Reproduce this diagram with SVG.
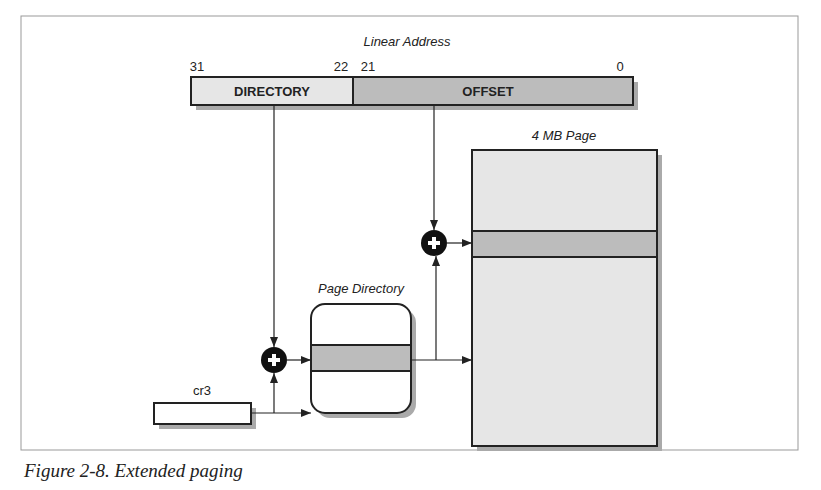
<svg xmlns="http://www.w3.org/2000/svg" width="821" height="490" viewBox="0 0 821 490">
<defs>
<marker id="ar" markerWidth="10" markerHeight="8" refX="10" refY="4" orient="auto" markerUnits="userSpaceOnUse"><path d="M0,0 L10,4 L0,8 Z" fill="#222"/></marker>
<style>
text{font-family:"Liberation Sans Narrow","Liberation Sans",Arial,sans-serif;fill:#222}
.it{font-style:italic;font-size:13px}
.n{font-size:13px}
.b{font-weight:bold;font-size:13px}
.box{stroke:#222;stroke-width:2}
.sh{fill:#aaa}
.ln{stroke:#222;stroke-width:1.2;fill:none}
</style>
</defs>
<rect width="821" height="490" fill="#fff"/>
<rect x="21" y="16" width="777" height="434" fill="none" stroke="#999" stroke-width="1"/>
<g id="linear-address">
<text class="it" x="407" y="46" text-anchor="middle">Linear Address</text>
<text class="n" x="197" y="71" text-anchor="middle">31</text>
<text class="n" x="341" y="71" text-anchor="middle">22</text>
<text class="n" x="368" y="71" text-anchor="middle">21</text>
<text class="n" x="620" y="71" text-anchor="middle">0</text>
<rect class="sh" x="196" y="82" width="442" height="28"/>
<rect class="box" x="191" y="77" width="162" height="28" fill="#e6e6e6"/>
<rect class="box" x="353" y="77" width="280" height="28" fill="#bcbcbc"/>
<text class="b" x="272" y="96" text-anchor="middle">DIRECTORY</text>
<text class="b" x="488" y="96" text-anchor="middle">OFFSET</text>
</g>
<g id="page-4mb">
<text class="it" x="564" y="140" text-anchor="middle">4 MB Page</text>
<rect class="sh" x="477" y="155" width="185" height="296"/>
<rect class="box" x="472" y="150" width="185" height="296" fill="#e6e6e6"/>
<rect class="box" x="472" y="231" width="185" height="26" fill="#bcbcbc"/>
</g>
<g id="page-directory">
<text class="it" x="361" y="293" text-anchor="middle">Page Directory</text>
<rect class="sh" x="316" y="309" width="100" height="109" rx="14"/>
<rect class="box" x="311" y="304" width="100" height="109" rx="14" fill="#fff"/>
<rect class="box" x="311" y="345" width="100" height="26" fill="#bcbcbc"/>
</g>
<g id="cr3">
<text class="n" x="202" y="395" text-anchor="middle">cr3</text>
<rect class="sh" x="159" y="408" width="97" height="21"/>
<rect class="box" x="154" y="403" width="97" height="21" fill="#fff"/>
</g>
<g id="plus1">
<circle cx="274" cy="360" r="13" fill="#111"/>
<path d="M268,360 H280 M274,354 V366" stroke="#fff" stroke-width="4"/>
</g>
<g id="plus2">
<circle cx="434" cy="243" r="13" fill="#111"/>
<path d="M428,243 H440 M434,237 V249" stroke="#fff" stroke-width="4"/>
</g>
<g id="connectors">
<path class="ln" d="M274,105 V347" marker-end="url(#ar)"/>
<path class="ln" d="M434,105 V230" marker-end="url(#ar)"/>
<path class="ln" d="M251,413 H311" marker-end="url(#ar)"/>
<path class="ln" d="M274,413 V373" marker-end="url(#ar)"/>
<path class="ln" d="M287,360 H311" marker-end="url(#ar)"/>
<path class="ln" d="M411,360 H472" marker-end="url(#ar)"/>
<path class="ln" d="M436,360 V256" marker-end="url(#ar)"/>
<path class="ln" d="M447,243 H472" marker-end="url(#ar)"/>
</g>
<text x="24" y="477" style="font-family:'Liberation Serif',serif;font-style:italic;font-size:19px">Figure 2-8. Extended paging</text>
</svg>
